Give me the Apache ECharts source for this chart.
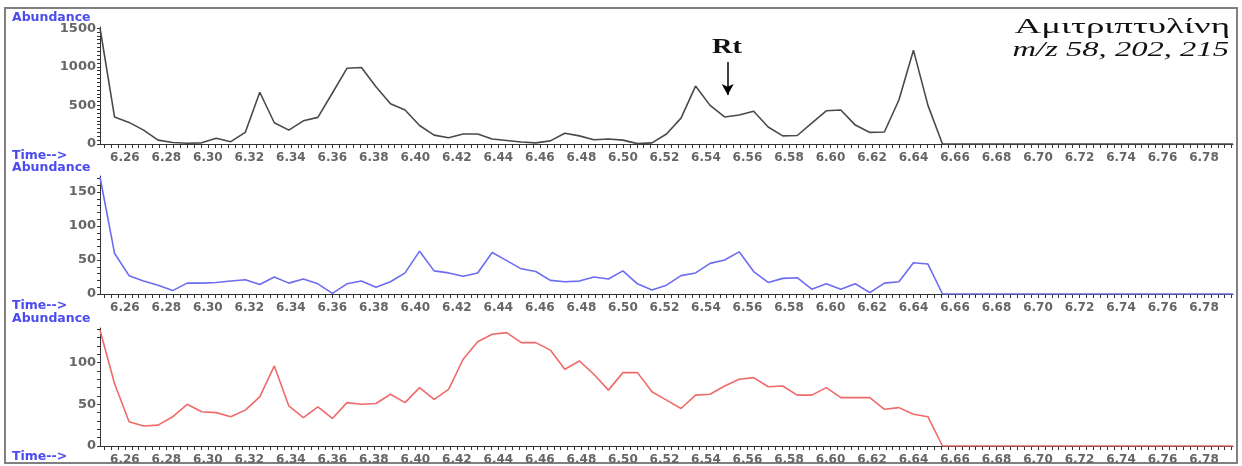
<!DOCTYPE html>
<html><head><meta charset="utf-8">
<script src="https://cdn.jsdelivr.net/npm/echarts@6/dist/echarts.min.js"></script>
<style>html,body{margin:0;padding:0;background:#fff}#c{width:1242px;height:466px}</style>
</head><body><div id="c"></div>
<script>
// ---- data ----
const times = [6.248, 6.255, 6.262, 6.269, 6.276, 6.283, 6.290, 6.297, 6.304, 6.311, 6.318, 6.325, 6.332, 6.339, 6.346, 6.353, 6.360, 6.367, 6.374, 6.381, 6.388, 6.395, 6.402, 6.409, 6.416, 6.423, 6.430, 6.437, 6.444, 6.451, 6.458, 6.465, 6.472, 6.479, 6.486, 6.493, 6.500, 6.507, 6.514, 6.521, 6.528, 6.535, 6.542, 6.549, 6.556, 6.563, 6.570, 6.577, 6.584, 6.591, 6.598, 6.605, 6.612, 6.619, 6.626, 6.633, 6.640, 6.647, 6.654, 6.794];
const ionTop = [1505, 350, 280, 180, 50, 20, 10, 15, 75, 30, 150, 670, 275, 180, 300, 345, 660, 980, 990, 740, 520, 440, 240, 115, 80, 130, 130, 65, 45, 25, 15, 40, 140, 105, 55, 65, 50, 5, 15, 130, 335, 750, 500, 350, 375, 425, 220, 105, 110, 270, 430, 440, 245, 150, 155, 570, 1215, 500, 0, 0];
const ionMid = [172, 60, 27, 19, 13, 5, 16, 16, 17, 19, 21, 14, 25, 16, 22, 15, 1, 15, 19, 10, 18, 31, 63, 34, 31, 26, 31, 61, 49, 37, 33, 20, 18, 19, 25, 22, 34, 15, 6, 13, 27, 31, 45, 50, 62, 33, 17, 23, 24, 7, 15, 7, 15, 2, 16, 18, 46, 44, 0, 0];
const ionBot = [139, 75, 29, 24, 25, 35, 50, 41, 40, 35, 43, 59, 96, 48, 34, 47, 33, 52, 50, 51, 62, 52, 70, 56, 68, 104, 125, 134, 136, 124, 124, 115, 92, 102, 86, 67, 88, 88, 65, 55, 45, 61, 62, 72, 80, 82, 71, 72, 61, 61, 70, 58, 58, 58, 44, 46, 38, 35, 0, 0];
const xTickLabels = [6.26, 6.28, 6.30, 6.32, 6.34, 6.36, 6.38, 6.40, 6.42, 6.44, 6.46, 6.48, 6.50, 6.52, 6.54, 6.56, 6.58, 6.60, 6.62, 6.64, 6.66, 6.68, 6.70, 6.72, 6.74, 6.76, 6.78];
const yTicksTop = [0, 500, 1000, 1500];
const yTicksMid = [0, 50, 100, 150];
const yTicksBot = [0, 50, 100];
const rtTime = 6.5505;
const rtArrow = [1062, 634];
const compoundName = 'Αμιτριπτυλίνη';
const ionsLabel = 'm/z 58, 202, 215';
const yLabel = 'Abundance';
const xLabel = 'Time-->';

// ---- layout ----
const X_MIN = 6.248, X_MAX = 6.794;
const panels = [
  {top: 27, height: 117, max: 1515, ticks: yTicksTop, minorStep: 50, data: ionTop, color: '#4a4a4a'},
  {top: 176, height: 118, max: 173.5, ticks: yTicksMid, minorStep: 10, data: ionMid, color: '#6c6cf0'},
  {top: 328, height: 118, max: 141.5, ticks: yTicksBot, minorStep: 10, data: ionBot, color: '#f06a6a'}
];
// tick positions: 6 per 0.02 min (includes the labelled ones)
const allTicksX = [];
for (let j = -3; ; j++) { const v = +(6.26 + j * 0.02 / 6).toFixed(5); if (v > X_MAX) break; if (v >= X_MIN) allTicksX.push(v); }

const grid = [], xAxis = [], yAxis = [], series = [];
const axisColor = '#333';
const lblFont = {color: '#666', fontFamily: 'DejaVu Sans', fontWeight: 'bold'};
panels.forEach((p, g) => {
  const allTicksY = [];
  for (let v = 0; v <= p.max; v += p.minorStep) allTicksY.push(v);
  grid.push({left: 100, width: 1133, top: p.top, height: p.height});
  xAxis.push({type: 'value', gridIndex: g, position: 'bottom', min: X_MIN, max: X_MAX,
    axisLine: {show: true, onZero: false, lineStyle: {color: axisColor, width: 1}},
    axisTick: {show: true, customValues: allTicksX, length: 4, lineStyle: {color: axisColor}},
    axisLabel: Object.assign({customValues: xTickLabels, formatter: v => v.toFixed(2), fontSize: 12, margin: 8}, lblFont),
    splitLine: {show: false}});
  yAxis.push({type: 'value', gridIndex: g, position: 'left', min: 0, max: p.max,
    axisLine: {show: true, onZero: false, lineStyle: {color: axisColor, width: 1}},
    axisTick: {show: true, customValues: allTicksY, length: 3, lineStyle: {color: axisColor}},
    axisLabel: Object.assign({customValues: p.ticks, formatter: v => String(v), fontSize: 13, margin: 4}, lblFont),
    splitLine: {show: false}});
  const s = {type: 'line', xAxisIndex: g, yAxisIndex: g, showSymbol: false, symbol: 'none',
    data: times.map((t, i) => [t, p.data[i]]),
    lineStyle: {color: p.color, width: 1.6}, itemStyle: {color: p.color}, z: 5};
  if (g === 0) {
    s.markLine = {silent: true, symbol: ['none', 'arrow'], symbolSize: [9, 11],
      lineStyle: {color: '#000', width: 1.5, type: 'solid'}, label: {show: false},
      data: [[{coord: [rtTime, rtArrow[0]]}, {coord: [rtTime, rtArrow[1]]}]]};
  }
  series.push(s);
});

const blue = '#4b4bf0';
const textY = [[18, 156], [168, 306], [319, 457]];
const graphic = [
  {type: 'rect', shape: {x: 5, y: 8, width: 1232, height: 455}, style: {fill: 'none', stroke: '#808080', lineWidth: 2}, z: 0}
];
textY.forEach(([ay, ty]) => {
  graphic.push({type: 'text', x: 12, y: ay, style: {text: yLabel, fill: blue, fontSize: 12.5, fontFamily: 'DejaVu Sans', fontWeight: 'bold', textVerticalAlign: 'middle'}});
  graphic.push({type: 'text', x: 12, y: ty, style: {text: xLabel, fill: blue, fontSize: 12.5, fontFamily: 'DejaVu Sans', fontWeight: 'bold', textVerticalAlign: 'middle'}});
});
graphic.push({type: 'text', x: 1230, y: 27, scaleX: 1.68, style: {text: compoundName, fill: '#111', fontSize: 22, fontFamily: 'Liberation Serif', textAlign: 'right', textVerticalAlign: 'middle'}});
graphic.push({type: 'text', x: 1229, y: 51, scaleX: 1.63, style: {text: ionsLabel, fill: '#111', fontSize: 20, fontStyle: 'italic', fontFamily: 'Liberation Serif', textAlign: 'right', textVerticalAlign: 'middle'}});
graphic.push({type: 'text', x: 727, y: 48, scaleX: 1.35, style: {text: 'Rt', fill: '#111', fontSize: 21, fontWeight: 'bold', fontFamily: 'Liberation Serif', textAlign: 'center', textVerticalAlign: 'middle'}});

const chart = echarts.init(document.getElementById('c'), null, {renderer: 'canvas'});
chart.setOption({animation: false, backgroundColor: '#fff', grid, xAxis, yAxis, series, graphic});
</script></body></html>
